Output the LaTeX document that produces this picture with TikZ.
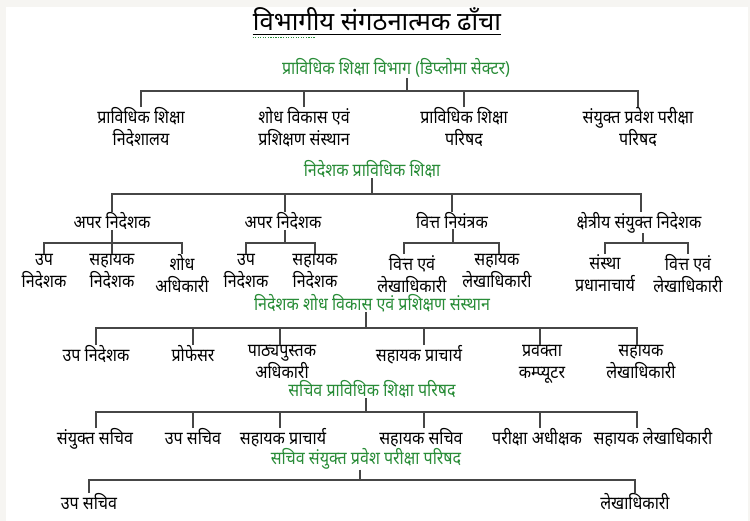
\documentclass[tikz,border=0pt]{standalone}
\usepackage{fontspec}
\newfontfamily\devfont[Script=Devanagari]{Noto Sans}
\newfontfamily\devnarrow[Script=Devanagari,FakeStretch=0.89]{Noto Sans}
\usetikzlibrary{positioning,calc}
\definecolor{headgreen}{RGB}{40,140,55}
\definecolor{linegray}{RGB}{70,70,70}
\definecolor{framegray}{RGB}{246,245,242}

\begin{document}
\begin{tikzpicture}[x=0.75pt,y=-0.75pt,
    post/.style={font=\devnarrow\fontsize{13.5}{16.5}\selectfont,align=center,inner sep=0pt,anchor=north},
    head/.style={font=\devnarrow\fontsize{13.5}{16}\selectfont,text=headgreen,inner sep=0pt},
    link/.style={draw=linegray,line width=0.9pt}]
  \useasboundingbox (0,0) rectangle (750,521);
  \fill[framegray] (0,0) rectangle (750,521);
  \fill[white] (6,7) rectangle (748,521);

  % शीर्षक
  \node[font=\devfont\fontsize{19.2}{22}\selectfont,inner sep=0pt] (title) at (377,19) {विभागीय संगठनात्मक ढाँचा};
  \draw[line width=0.8pt] ($(title.base west)+(0,4)$) -- ($(title.base east)+(0,4)$);
  \draw[headgreen,densely dotted,line width=0.9pt] ($(title.base west)+(0,7)$) -- ++(63,0);

  % विभाग
  \node[head] (vibhag) at (396,68) {प्राविधिक शिक्षा विभाग (डिप्लोमा सेक्टर)};
  \coordinate (bar1) at (407,91);
  \node[post] (nideshalay) at (141,107) {प्राविधिक शिक्षा\\निदेशालय};
  \node[post] (sodh) at (304,107) {शोध विकास एवं\\प्रशिक्षण संस्थान};
  \node[post] (parishad) at (464,107) {प्राविधिक शिक्षा\\परिषद};
  \node[post] (pravesh) at (638,107) {संयुक्त प्रवेश परीक्षा\\परिषद};
  \draw[link] (vibhag.south -| bar1) -- (bar1);
  \draw[link] (nideshalay.north) |- (bar1) -| (pravesh.north);
  \draw[link] (sodh.north) -- (sodh.north |- bar1);
  \draw[link] (parishad.north) -- (parishad.north |- bar1);

  % निदेशक प्राविधिक शिक्षा
  \node[head] (ndir) at (372,169) {निदेशक प्राविधिक शिक्षा};
  \coordinate (bar2) at (372,194);
  \node[post] (apar1) at (112,212) {अपर निदेशक};
  \node[post] (apar2) at (283,212) {अपर निदेशक};
  \node[post] (vitt) at (452,212) {वित्त नियंत्रक};
  \node[post] (kshetra) at (639,212) {क्षेत्रीय संयुक्त निदेशक};
  \draw[link] (ndir.south) -- (bar2);
  \draw[link] (apar1.north) |- (bar2) -| ($(kshetra.north)+(2,0)$);
  \draw[link] ($(apar2.north)+(2,0)$) -- ($(apar2.north |- bar2)+(2,0)$);
  \draw[link] (vitt.north) -- (vitt.north |- bar2);

  % अपर निदेशक (1)
  \coordinate (bar3a) at (112,243);
  \node[post] (upa) at (44,254) {उप\\निदेशक};
  \node[post] (saha) at (112,254) {सहायक\\निदेशक};
  \node[post] (sodha) at (182,254) {शोध\\अधिकारी};
  \draw[link] (apar1.south) -- (saha.north);
  \draw[link] (upa.north) |- (bar3a) -| (sodha.north);

  % अपर निदेशक (2)
  \coordinate (bar3b) at (285,243);
  \node[post] (upb) at (246,254) {उप\\निदेशक};
  \node[post] (sahb) at (315,254) {सहायक\\निदेशक};
  \draw[link] ($(apar2.south)+(2,0)$) -- (bar3b);
  \draw[link] (upb.north) |- (bar3b) -| (sahb.north);

  % वित्त नियंत्रक
  \coordinate (bar3c) at (453,243);
  \node[post] (vittl) at (412,254) {वित्त एवं\\लेखाधिकारी};
  \node[post] (sahl) at (497,254) {सहायक\\लेखाधिकारी};
  \draw[link] (vitt.south -| bar3c) -- (bar3c);
  \draw[link] ($(vittl.north)+(-8,0)$) |- (bar3c) -| ($(sahl.north)+(2,0)$);

  % क्षेत्रीय संयुक्त निदेशक
  \coordinate (bar3d) at (643,243);
  \node[post] (sanstha) at (605,254) {संस्था\\प्रधानाचार्य};
  \node[post] (vittk) at (688,254) {वित्त एवं\\लेखाधिकारी};
  \draw[link] (kshetra.south -| bar3d) -- (bar3d);
  \draw[link] (sanstha.north) |- (bar3d) -| (vittk.north);

  % निदेशक शोध विकास एवं प्रशिक्षण संस्थान
  \node[head] (nsodh) at (372,303) {निदेशक शोध विकास एवं प्रशिक्षण संस्थान};
  \coordinate (bar4) at (366,328);
  \node[post] (upn) at (96,345) {उप निदेशक};
  \node[post] (prof) at (193,345) {प्रोफेसर};
  \node[post] (pustak) at (282,345) {पाठ्यपुस्तक\\अधिकारी};
  \node[post] (pracharya) at (419,345) {सहायक प्राचार्य};
  \node[post] (pravakta) at (542,345) {प्रवक्ता\\कम्प्यूटर};
  \node[post] (lekha) at (641,345) {सहायक\\लेखाधिकारी};
  \draw[link] (nsodh.south -| bar4) -- (bar4);
  \draw[link] (upn.north) |- (bar4) -| ($(lekha.north)+(-4,0)$);
  \draw[link] (prof.north) -- (prof.north |- bar4);
  \draw[link] ($(pustak.north)+(-2,0)$) -- ($(pustak.north |- bar4)+(-2,0)$);
  \draw[link] ($(pracharya.north)+(5,0)$) -- ($(pracharya.north |- bar4)+(5,0)$);
  \draw[link] ($(pravakta.north)+(-2,0)$) -- ($(pravakta.north |- bar4)+(-2,0)$);

  % सचिव प्राविधिक शिक्षा परिषद
  \node[head] (sachiv) at (372,389) {सचिव प्राविधिक शिक्षा परिषद};
  \coordinate (bar5) at (366,412);
  \node[post] (sanyukt) at (95,428) {संयुक्त सचिव};
  \node[post] (upsachiv) at (193,428) {उप सचिव};
  \node[post] (spracharya) at (283,428) {सहायक प्राचार्य};
  \node[post] (ssachiv) at (421,428) {सहायक सचिव};
  \node[post] (adhikshak) at (537,428) {परीक्षा अधीक्षक};
  \node[post] (slekha) at (653,428) {सहायक लेखाधिकारी};
  \draw[link] (sachiv.south -| bar5) -- (bar5);
  \draw[link] ($(sanyukt.north)+(1,0)$) |- (bar5) -| ($(slekha.north)+(-16,0)$);
  \draw[link] (upsachiv.north) -- (upsachiv.north |- bar5);
  \draw[link] ($(spracharya.north)+(-3,0)$) -- ($(spracharya.north |- bar5)+(-3,0)$);
  \draw[link] ($(ssachiv.north)+(3,0)$) -- ($(ssachiv.north |- bar5)+(3,0)$);
  \draw[link] ($(adhikshak.north)+(3,0)$) -- ($(adhikshak.north |- bar5)+(3,0)$);

  % सचिव संयुक्त प्रवेश परीक्षा परिषद
  \node[head] (psachiv) at (366,459) {सचिव संयुक्त प्रवेश परीक्षा परिषद};
  \coordinate (bar6) at (360,480);
  \node[post] (upsachiv2) at (89,493) {उप सचिव};
  \node[post] (lekhadhikari) at (635,493) {लेखाधिकारी};
  \draw[link] (psachiv.south -| bar6) -- (bar6);
  \draw[link] (upsachiv2.north) |- (bar6) -| (lekhadhikari.north);
\end{tikzpicture}
\end{document}
